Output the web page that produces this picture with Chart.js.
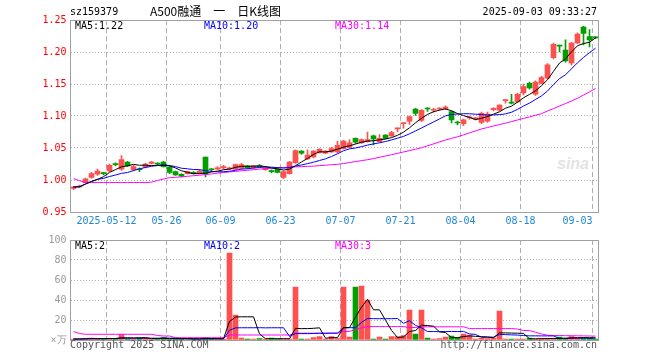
<!DOCTYPE html>
<html><head><meta charset="utf-8">
<script src="https://cdn.jsdelivr.net/npm/chart.js@4.4.1/dist/chart.umd.min.js"></script>
<style>
html,body{margin:0;padding:0;background:#fff;}
#wrap{position:relative;width:660px;height:360px;overflow:hidden;background:#fff;}
.t{position:absolute;white-space:pre;line-height:12px;font-size:10px;font-family:'DejaVu Sans Mono',monospace;color:#000;}
canvas{position:absolute;left:0;}
</style></head><body>
<div id="wrap">
<div class="t" style="left:557px;top:155px;font:italic bold 16px 'Liberation Sans',sans-serif;color:#e3e3e3;line-height:18px">sina</div>
<canvas id="kc" width="660" height="230" style="top:0"></canvas>
<canvas id="vc" width="660" height="130" style="top:230px"></canvas>
<div class="t" style="left:70px;top:6px">sz159379</div>
<div class="t" style="left:150px;top:3px;font-size:12px;line-height:15px;font-family:'Noto Sans CJK SC',sans-serif">A500融通　一　日K线图</div>
<div class="t" style="right:63px;top:6px">2025-09-03 09:33:27</div>
<div class="t" id="pl0" style="left:75px;top:20px;color:#000"></div>
<div class="t" id="pl1" style="left:204px;top:20px;color:#0000ff"></div>
<div class="t" id="pl2" style="left:335px;top:20px;color:#ff00ff"></div>
<div class="t" id="vl0" style="left:75px;top:240px;color:#000"></div>
<div class="t" id="vl1" style="left:204px;top:240px;color:#0000ff"></div>
<div class="t" id="vl2" style="left:335px;top:240px;color:#ff00ff"></div>
<div class="t" style="left:70px;top:339px;color:#555">Copyright 2025 SINA.COM</div>
<div class="t" style="right:63px;top:339px;color:#555">http://finance.sina.com.cn</div>
</div>
<script>
// ---------------- data ----------------
const dates = ['04-29','04-30','05-06','05-07','05-08','05-09','05-12','05-13','05-14','05-15',
'05-16','05-19','05-20','05-21','05-22','05-23','05-26','05-27','05-28','05-29',
'05-30','06-03','06-04','06-05','06-06','06-09','06-10','06-11','06-12','06-13',
'06-16','06-17','06-18','06-19','06-20','06-23','06-24','06-25','06-26','06-27',
'06-30','07-01','07-02','07-03','07-04','07-07','07-08','07-09','07-10','07-11',
'07-14','07-15','07-16','07-17','07-18','07-21','07-22','07-23','07-24','07-25',
'07-28','07-29','07-30','07-31','08-01','08-04','08-05','08-06','08-07','08-08',
'08-11','08-12','08-13','08-14','08-15','08-18','08-19','08-20','08-21','08-22',
'08-25','08-26','08-27','08-28','08-29','09-01','09-02','09-03'];

const opens = [0.987,0.989,0.996,1.004,1.009,1.011,1.014,1.025,1.017,1.028,
1.016,1.017,1.020,1.026,1.026,1.028,1.020,1.013,1.009,1.010,
1.012,1.010,1.036,1.017,1.017,1.019,1.017,1.017,1.018,1.022,
1.019,1.022,1.016,1.014,1.017,1.004,1.010,1.027,1.045,1.033,
1.036,1.043,1.042,1.044,1.044,1.049,1.051,1.065,1.058,1.060,
1.069,1.060,1.070,1.069,1.080,1.088,1.092,1.111,1.093,1.112,
1.109,1.111,1.112,1.107,1.090,1.088,1.097,1.095,1.090,1.092,
1.110,1.109,1.124,1.121,1.122,1.136,1.151,1.134,1.151,1.159,
1.191,1.211,1.203,1.183,1.214,1.239,1.224,1.223];

const highs = [0.990,0.992,1.003,1.012,1.017,1.012,1.025,1.027,1.038,1.029,
1.023,1.019,1.026,1.029,1.027,1.029,1.021,1.014,1.010,1.014,
1.013,1.016,1.036,1.018,1.021,1.023,1.020,1.025,1.026,1.023,
1.023,1.024,1.020,1.016,1.018,1.014,1.029,1.047,1.046,1.047,
1.046,1.049,1.046,1.051,1.061,1.062,1.063,1.066,1.064,1.075,
1.070,1.071,1.071,1.076,1.081,1.089,1.100,1.112,1.110,1.113,
1.112,1.113,1.116,1.108,1.092,1.095,1.100,1.098,1.106,1.106,
1.113,1.118,1.126,1.134,1.136,1.150,1.153,1.155,1.162,1.182,
1.214,1.211,1.219,1.215,1.230,1.240,1.235,1.224];

const lows = [0.985,0.988,0.995,1.003,1.007,1.008,1.013,1.022,1.015,1.021,
1.014,1.013,1.019,1.025,1.024,1.020,1.010,1.007,1.005,1.009,
1.009,1.009,1.005,1.014,1.016,1.017,1.016,1.016,1.017,1.018,
1.018,1.020,1.015,1.011,1.011,1.002,1.009,1.026,1.040,1.032,
1.035,1.042,1.041,1.043,1.042,1.048,1.050,1.057,1.057,1.059,
1.055,1.059,1.064,1.068,1.075,1.081,1.087,1.101,1.091,1.107,
1.106,1.109,1.110,1.089,1.086,1.085,1.095,1.094,1.088,1.090,
1.108,1.108,1.120,1.119,1.121,1.133,1.142,1.132,1.150,1.158,
1.189,1.200,1.184,1.180,1.213,1.211,1.208,1.221];

const closes = [0.989,0.990,1.002,1.010,1.014,1.010,1.023,1.024,1.032,1.022,
1.021,1.016,1.025,1.028,1.025,1.021,1.012,1.008,1.006,1.013,
1.010,1.014,1.010,1.016,1.019,1.021,1.019,1.024,1.024,1.019,
1.022,1.021,1.019,1.013,1.012,1.013,1.028,1.046,1.042,1.039,
1.045,1.048,1.045,1.049,1.054,1.061,1.058,1.059,1.063,1.063,
1.064,1.065,1.065,1.074,1.081,1.089,1.099,1.104,1.109,1.111,
1.110,1.112,1.114,1.094,1.089,1.094,1.098,1.097,1.104,1.103,
1.112,1.117,1.125,1.120,1.134,1.146,1.144,1.153,1.160,1.180,
1.212,1.209,1.186,1.214,1.228,1.229,1.219,1.222];

// MA30 of price
const ma30Price = [1.002,0.999,0.996,0.996,0.996,0.996,0.996,0.996,0.996,0.996,
0.996,0.996,0.996,0.9967,0.9992,1.0016,1.0036,1.0042,1.0050,1.0058,
1.0067,1.0075,1.0084,1.0095,1.0106,1.0117,1.0127,1.0134,1.0144,1.0152,
1.0161,1.0170,1.0177,1.0183,1.0191,1.0197,1.0200,1.0205,1.0209,1.0213,
1.0217,1.0225,1.0231,1.0239,1.0245,1.0258,1.0273,1.0288,1.0303,1.0317,
1.0334,1.0355,1.0375,1.0395,1.0416,1.0438,1.0459,1.0481,1.0505,1.0534,
1.0564,1.0595,1.0625,1.0650,1.0675,1.0705,1.0736,1.0767,1.0798,1.0820,
1.0844,1.0866,1.0888,1.0913,1.0938,1.0961,1.0986,1.1011,1.1037,1.1078,
1.1117,1.1156,1.1195,1.1234,1.1277,1.1327,1.1377,1.1430];

// volume (x万)
const volumes = [1,1,1.5,2,1,1.5,1.5,1.5,5.5,1,
1,2,2,1,1,2.5,1,1,1,1,
1,1,2.5,1,1,1,87,25,2,1,
1,1.5,1,2,1,1,1,53,1,1,
2.5,3.5,1,3.5,1.5,53,3,53,54,40,
1,3,1,3.5,3.5,4.5,30,6,30,2,
1,1.5,3,4,2.5,6,5,1,2,1.5,
2,29,1,1,1,1,2,1,1.5,1.5,
1.5,3,1.5,3.5,2,2,2,1];

// MA30 of volume
const ma30Vol = [8.4,6.5,5.7,5.7,5.7,5.7,5.7,5.7,5.7,5.7,
5.7,5.7,5.7,5.7,4.5,4,4,2.3,2.3,2.3,
2.3,2.3,2.3,2.3,2.3,2.3,5,5,5,5,
5,5,5,5,5,5,5,6.8,6.8,6.8,
6.8,6.8,6.8,6.8,6.8,8.5,8.6,10.4,12.2,13.4,
13.4,13.4,13.4,13.4,13.4,13.4,12.5,12.5,13.3,13.2,
13.2,13.2,13.2,13.2,13.2,13.2,11.4,11.4,11.4,11.4,
11.4,11.4,11.4,11.4,11,9.5,9.4,7.8,6,4.8,
4.5,4.5,4.3,4.3,4.2,4.1,4.0,3.9];

const tickLabels = ['2025-05-12','05-26','06-09','06-23','07-07','07-21','08-04','08-18','09-03'];
const priceTicks = [0.95,1.00,1.05,1.10,1.15,1.20,1.25];
const volTicks = [0,20,40,60,80,100];
const priceLegend = ['MA5:1.22','MA10:1.20','MA30:1.14'];
const volLegend = ['MA5:2','MA10:2','MA30:3'];
const volUnit = '×万';

// ---------------- helpers ----------------
const FONT = "'DejaVu Sans Mono', monospace";
const UP = '#ff5050', DOWN = '#00a000', GRID = '#b0b0b0', FRAME = '#a0a0a0';
const candleColors = closes.map((c,i)=> c >= opens[i] ? UP : DOWN);
function movingAvg(arr, n){
  return arr.map((_,i)=>{ const s=Math.max(0,i-n+1); let t=0; for(let k=s;k<=i;k++) t+=arr[k]; return t/(i-s+1); });
}
const tickIdx = tickLabels.map(l => dates.indexOf(l.slice(-5)));
const bodies = dates.map((_,i)=>[opens[i], closes[i]]);
const wicks = dates.map((_,i)=>[lows[i], highs[i]]);

['pl0','pl1','pl2'].forEach((id,k)=>document.getElementById(id).textContent = priceLegend[k]);
['vl0','vl1','vl2'].forEach((id,k)=>document.getElementById(id).textContent = volLegend[k]);

const framePlugin = {id:'frame', beforeDatasetsDraw(chart){
  const {ctx, chartArea:a} = chart;
  ctx.save(); ctx.strokeStyle = FRAME; ctx.lineWidth = 1;
  ctx.strokeRect(Math.floor(a.left)+0.5, Math.floor(a.top)+0.5, Math.round(a.right-a.left), Math.round(a.bottom-a.top));
  ctx.restore();
}};

function xScale(showLabels){
  return {
    offset:true,
    grid:{offset:true, drawTicks:false, lineWidth:1,
      color: c => tickIdx.includes(c.index) ? GRID : 'rgba(0,0,0,0)'},
    border:{display:false, dash:[5,3]},
    ticks:{display:showLabels, autoSkip:false, maxRotation:0, minRotation:0, padding:3, labelOffset:-3,
      color:'#1f86d6', font:{family:FONT, size:10},
      callback:(v,i)=>{ const k = tickIdx.indexOf(i); if(k<0) return '';
        return i === dates.length-1 ? tickLabels[k] + '     ' : tickLabels[k]; }},
    afterFit: s => { s.height = showLabels ? 18 : 20; }
  };
}
function lineDs(data, color){
  return {type:'line', data, borderColor:color, borderWidth:1, pointRadius:0, tension:0, order:0, fill:false};
}

new Chart(document.getElementById('kc'), {
  type:'bar',
  data:{labels:dates, datasets:[
    lineDs(movingAvg(closes,5), '#000000'),
    lineDs(movingAvg(closes,10), '#0000ff'),
    lineDs(ma30Price, '#ff00ff'),
    {type:'bar', data:bodies, backgroundColor:candleColors, barThickness:5, grouped:false, minBarLength:1, borderWidth:0, order:1},
    {type:'bar', data:wicks, backgroundColor:candleColors, barThickness:1, grouped:false, borderWidth:0, order:2}
  ]},
  options:{
    responsive:false, animation:false, devicePixelRatio:1,
    layout:{padding:{top:20, right:61.5, left:0, bottom:0}},
    plugins:{legend:{display:false}, tooltip:{enabled:false}},
    scales:{
      x: xScale(true),
      y:{min:priceTicks[0], max:priceTicks[priceTicks.length-1],
        afterBuildTicks: s => { s.ticks = priceTicks.map(v=>({value:v})); },
        ticks:{color:'#ff0000', padding:4, font:{family:FONT, size:10}, callback:v=>Number(v).toFixed(2)},
        grid:{drawTicks:false, color: c => { const v = c.tick && c.tick.value;
          return (v===undefined || v===priceTicks[0] || v===priceTicks[priceTicks.length-1]) ? 'rgba(0,0,0,0)' : GRID; }},
        border:{display:false, dash:[1,2]},
        afterFit: s => { s.width = 70.5; }
      }
    }
  },
  plugins:[framePlugin]
});

new Chart(document.getElementById('vc'), {
  type:'bar',
  data:{labels:dates, datasets:[
    lineDs(movingAvg(volumes,5), '#000000'),
    lineDs(movingAvg(volumes,10), '#0000ff'),
    lineDs(ma30Vol, '#ff00ff'),
    {type:'bar', data:volumes, backgroundColor:candleColors, barThickness:5, borderWidth:0, order:1}
  ]},
  options:{
    responsive:false, animation:false, devicePixelRatio:1,
    layout:{padding:{top:10, right:61.5, left:0, bottom:0}},
    plugins:{legend:{display:false}, tooltip:{enabled:false}},
    scales:{
      x: xScale(false),
      y:{min:volTicks[0], max:volTicks[volTicks.length-1],
        afterBuildTicks: s => { s.ticks = volTicks.map(v=>({value:v})); },
        ticks:{color:'#999999', padding:4, font:{family:FONT, size:10}, callback:v => v===0 ? volUnit : String(v)},
        grid:{drawTicks:false, color: c => { const v = c.tick && c.tick.value;
          return (v===undefined || v===volTicks[0] || v===volTicks[volTicks.length-1]) ? 'rgba(0,0,0,0)' : GRID; }},
        border:{display:false, dash:[1,2]},
        afterFit: s => { s.width = 70.5; }
      }
    }
  },
  plugins:[framePlugin]
});
</script>
</body></html>
